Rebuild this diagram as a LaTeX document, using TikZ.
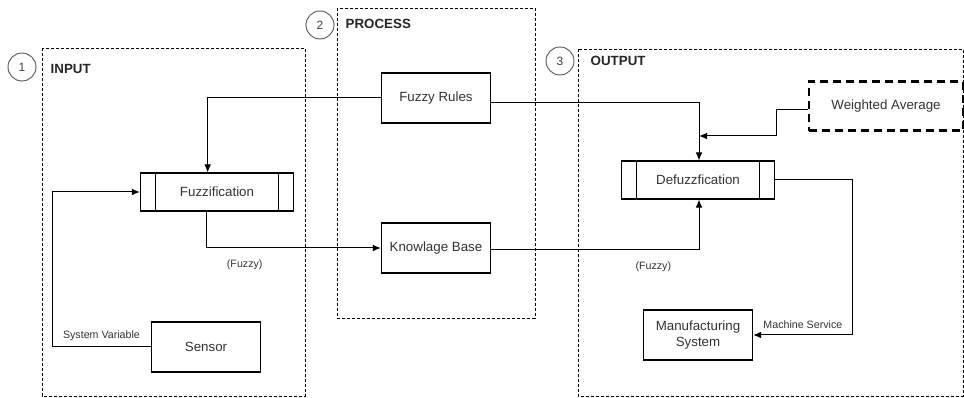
\documentclass[tikz,border=0pt]{standalone}
\usepackage{fontspec}
\setmainfont{Liberation Sans}
\usetikzlibrary{arrows.meta}

\tikzset{
  box/.style={draw, line width=0.8pt, minimum width=82pt, minimum height=37.5pt, align=center, text=black!80},
  procbox/.style={box, minimum width=115pt, minimum height=28.5pt},
  wbox/.style={box, minimum width=115.5pt, minimum height=37pt, line width=1.8pt, dash pattern=on 6pt off 3.75pt},
  group/.style={draw, line width=0.7pt, dash pattern=on 2.25pt off 1.5pt},
  stage/.style={circle, draw=black!65, line width=0.7pt, minimum size=21pt, inner sep=0pt, text=black!75, font=\fontsize{9}{10}\selectfont},
  title/.style={anchor=west, text=black!85, font=\bfseries\fontsize{10}{12}\selectfont},
  small/.style={text=black!80, font=\fontsize{8}{9}\selectfont},
  arr/.style={-{Latex[length=6pt,width=5pt]}, line width=0.75pt}
}

\begin{document}
\begin{tikzpicture}[x=0.75pt, y=-0.75pt, font=\fontsize{10}{12}\selectfont]
\useasboundingbox (0,0) rectangle (964,398);

% the three stages
\draw[group] (42,48) rectangle (305,396);
\draw[group] (337,8) rectangle (535,318);
\draw[group] (578,49) rectangle (963,396);

\node[stage] (one) at (22,67) {1};
\node[title] (input) at (46,69) {INPUT};
\node[stage] (two) at (320,25) {2};
\node[title] (process) at (341,24) {PROCESS};
\node[stage] (three) at (560,61) {3};
\node[title] (output) at (586,61) {OUTPUT};

% blocks
\node[box] (rules) at (436,98) {Fuzzy Rules};
\node[box] (base) at (436,248) {Knowlage Base};
\node[procbox] (fuzz) at (217,192) {Fuzzification};
\node[procbox] (defuzz) at (698,180) {Defuzzfication};
\node[wbox] (wavg) at (886,106) {Weighted Average};
\node[box] (sensor) at (206,347) {Sensor};
\node[box] (mfg) at (698,335) {Manufacturing\\System};

% side bars of the process blocks
\draw[line width=0.8pt] ([xshift=12pt]fuzz.north west) -- ([xshift=12pt]fuzz.south west);
\draw[line width=0.8pt] ([xshift=-12pt]fuzz.north east) -- ([xshift=-12pt]fuzz.south east);
\draw[line width=0.8pt] ([xshift=12pt]defuzz.north west) -- ([xshift=12pt]defuzz.south west);
\draw[line width=0.8pt] ([xshift=-12pt]defuzz.north east) -- ([xshift=-12pt]defuzz.south east);

\coordinate (join) at (699,136);

% connectors
\draw[arr] (rules.west) -| ([xshift=-7pt]fuzz.north);
\draw[arr] ([yshift=-3.75pt]rules.east) -| ([xshift=0.75pt]defuzz.north);
\draw[arr] ([yshift=-3pt]wavg.west) -| ([xshift=58pt]join) -- (join);
\draw[arr] ([xshift=-8pt]fuzz.south) |- (base.west)
  node[small, pos=0.61, below=5pt] {(Fuzzy)};
\draw[arr] ([yshift=-1.5pt]base.east) -| ([xshift=0.75pt]defuzz.south)
  node[small, pos=0.39, below=5pt] {(Fuzzy)};
\draw[arr] (sensor.west) -- ++(-74pt,0)
  node[small, midway, above=1pt] {System Variable} |- (fuzz.west);
\draw[arr] (defuzz.east) -- ++(58pt,0) |- (mfg.east)
  node[small, pos=0.75, above=1pt] {Machine Service};

\end{tikzpicture}
\end{document}
